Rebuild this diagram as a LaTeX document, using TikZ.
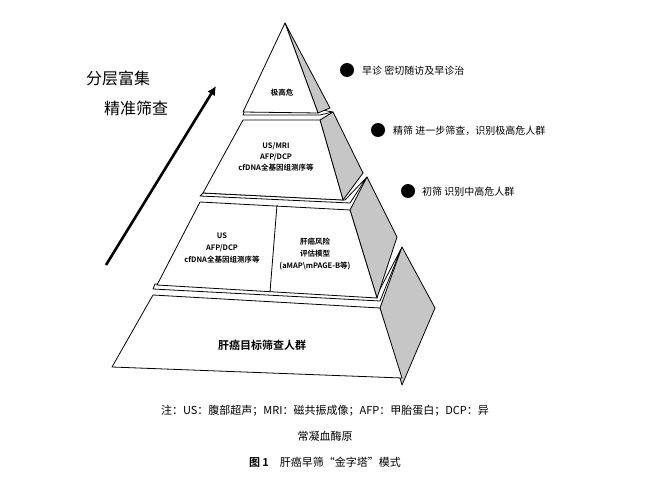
\documentclass[tikz,border=0pt]{standalone}
\usepackage{fontspec}
\usetikzlibrary{arrows.meta}
\setmainfont{Liberation Serif}
\newfontfamily\cjk{Noto Sans CJK SC}
\newfontfamily\cjkb{Noto Sans CJK SC Bold}
\begin{document}
\begin{tikzpicture}[x=1pt,y=-1pt,
  face/.style={draw=black,line width=0.8pt,fill=white,line join=round},
  side/.style={draw=black,line width=0.8pt,fill=gray!45,line join=round},
  lab/.style={font=\cjkb\fontsize{7.5}{10}\selectfont,align=center,inner sep=0pt},
  note/.style={font=\cjk\fontsize{10}{12}\selectfont,anchor=west,inner sep=0pt},
  dot/.style={circle,fill=black,minimum size=14pt,inner sep=0pt}]
\useasboundingbox (0,0) rectangle (650,487);
% tier 4
\draw[face] (153,289) -- (380,301) -- (402,247) -- (377,295) -- (155,284) -- cycle;
\draw[side] (380,308) -- (402,247) -- (435,308) -- (402,385) -- cycle;
\draw[face] (153,295) -- (380,308) -- (402,378) -- (112,367) -- cycle;
% tier 3
\draw[face] (200,196) -- (350,203) -- (367,177) -- (345,200) -- (203,193) -- cycle;
\draw[side] (350,210) -- (367,177) -- (397,237) -- (377,298) -- cycle;
\draw[face] (200,202) -- (350,210) -- (377,298) -- (157,285) -- cycle;
\draw[line width=0.8pt] (277,205) -- (270,292);
% tier 2
\draw[face] (243,115) -- (320,115) -- (333,112) -- (322,110) -- (245,110) -- cycle;
\draw[side] (320,120) -- (333,112) -- (363,173) -- (343,200) -- cycle;
\draw[face] (243,120) -- (320,120) -- (343,200) -- (203,193) -- cycle;
% tier 1
\draw[side] (285,23) -- (330,108) -- (318,113) -- cycle;
\draw[face] (285,23) -- (318,113) -- (243,112) -- cycle;
% labels
\node[lab] (t1) at (282,93) {极高危};
\node[lab] (t2) at (276,157) {US/MRI\\[1pt]AFP/DCP\\[1pt]cfDNA全基因组测序等};
\node[lab] (t3a) at (222,248) {US\\[2pt]AFP/DCP\\[2pt]cfDNA全基因组测序等};
\node[lab] (t3b) at (315,254) {肝癌风险\\[2pt]评估模型\\[2pt](aMAP\textbackslash mPAGE-B等)};
\node[lab,font=\cjkb\fontsize{11}{13}\selectfont] (t4) at (262,345) {肝癌目标筛查人群};
% left text and arrow
\node[font=\cjk\fontsize{16}{18}\selectfont,inner sep=0pt] (l1) at (118,78) {分层富集};
\node[font=\cjk\fontsize{16}{18}\selectfont,inner sep=0pt] (l2) at (136,108) {精准筛查};
\coordinate (a0) at (106,265);
\coordinate (a1) at (216,86);
\draw[line width=2.6pt,-{Latex[length=9pt,width=9pt]}] (a0) -- (a1);
% bullets
\node[dot] (b1) at (347,70) {};
\node[note] (n1) at (362,71) {早诊 密切随访及早诊治};
\node[dot] (b2) at (378,130) {};
\node[note] (n2) at (393,131) {精筛 进一步筛查，识别极高危人群};
\node[dot] (b3) at (408,191) {};
\node[note] (n3) at (422,192) {初筛 识别中高危人群};
% caption
\node[font=\cjk\fontsize{11}{13}\selectfont,inner sep=0pt] (c1) at (325,411) {注：US：腹部超声；MRI：磁共振成像；AFP：甲胎蛋白；DCP：异};
\node[font=\cjk\fontsize{11}{13}\selectfont,inner sep=0pt] (c2) at (325,436) {常凝血酶原};
\node[font=\cjk\fontsize{11}{13}\selectfont,inner sep=0pt] (c3) at (325,462) {{\cjkb 图 1}\quad 肝癌早筛“金字塔”模式};
\end{tikzpicture}
\end{document}
